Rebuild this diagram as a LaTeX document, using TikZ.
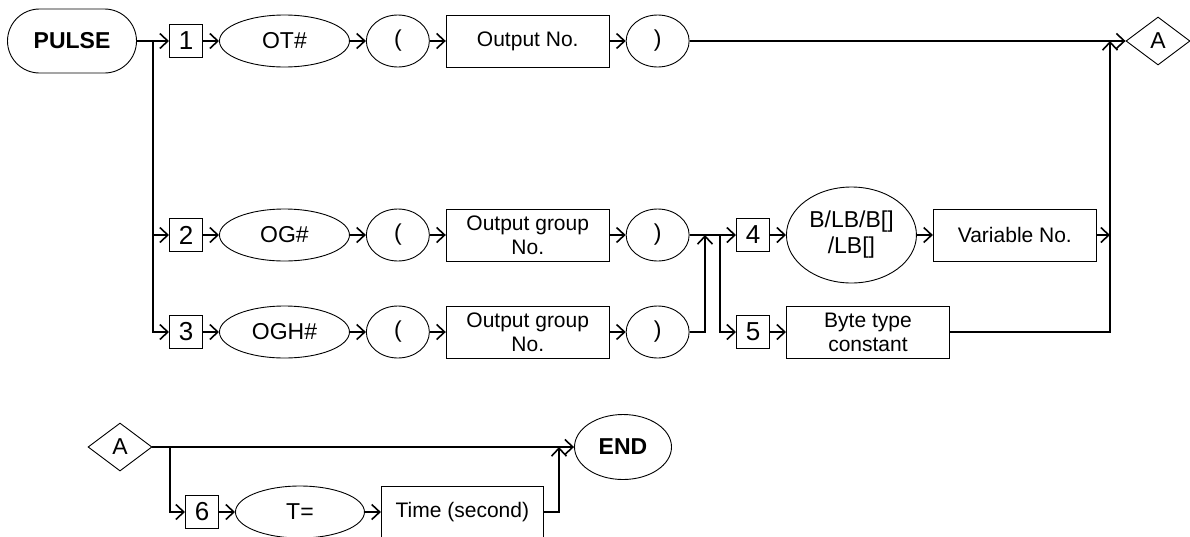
\documentclass[tikz,border=0pt]{standalone}
\usepackage{fontspec}
\setmainfont{Liberation Sans}
\usetikzlibrary{shapes.geometric,arrows.meta,positioning}

\begin{document}
\begin{tikzpicture}[x=1pt, y=-1pt, node distance=16pt,
  numbox/.style={rectangle, draw, line width=1pt, minimum size=33pt,
                 inner sep=0pt, font=\fontsize{26}{26}\selectfont},
  kw/.style={ellipse, draw, line width=0.9pt, minimum width=#1,
             minimum height=52pt, inner sep=0pt, align=center,
             font=\fontsize{23}{26}\selectfont},
  kw/.default=130pt,
  item/.style={rectangle, draw, line width=0.9pt, minimum width=#1,
               minimum height=52pt, inner sep=0pt, align=center,
               font=\fontsize{21}{24}\selectfont},
  item/.default=163pt,
  term/.style={rectangle, rounded corners=32pt, draw, line width=0.9pt,
               minimum width=129pt, minimum height=64pt, inner sep=0pt,
               font=\bfseries\fontsize{23}{24}\selectfont},
  link/.style={diamond, draw, line width=0.9pt, minimum width=64pt,
               minimum height=48pt, inner sep=0pt,
               font=\fontsize{23}{24}\selectfont},
  arr/.style={-{Straight Barb[length=8pt,width=15pt]}, line width=1.6pt}
]
  \useasboundingbox (0,0) rectangle (1190,536);

  % row 1
  \node[term] (pulse) at (72,41) {PULSE};
  \node[numbox] (n1) at (186,41) {1};
  \node[kw, right=of n1] (ot) {OT\#};
  \node[kw=63pt, right=of ot] (lp1) {(};
  \node[item, right=of lp1] (outno) {Output No.};
  \node[kw=63pt, right=of outno] (rp1) {)};
  \node[link] (a1) at (1158,41) {A};

  % row 2
  \node[numbox] (n2) at (186,235) {2};
  \node[kw, right=of n2] (og) {OG\#};
  \node[kw=63pt, right=of og] (lp2) {(};
  \node[item, right=of lp2] (grp2) {Output group\\No.};
  \node[kw=63pt, right=of grp2] (rp2) {)};
  \node[numbox] (n4) at (753,235) {4};
  \node[kw, minimum height=96pt, right=of n4] (bvar) {B/LB/B[]\\/LB[]};
  \node[item, right=of bvar] (varno) {Variable No.};

  % row 3
  \node[numbox] (n3) at (186,332) {3};
  \node[kw, right=of n3] (ogh) {OGH\#};
  \node[kw=63pt, right=of ogh] (lp3) {(};
  \node[item, right=of lp3] (grp3) {Output group\\No.};
  \node[kw=63pt, right=of grp3] (rp3) {)};
  \node[numbox] (n5) at (753,332) {5};
  \node[item, right=of n5] (byte) {Byte type\\constant};

  % second part
  \node[link] (a2) at (120,447) {A};
  \node[numbox] (n6) at (202,512) {6};
  \node[kw=129pt, right=of n6] (teq) {T=};
  \node[item=162pt, right=of teq] (time) {Time (second)};
  \node[kw=97pt, minimum height=65pt, font=\bfseries\fontsize{23}{24}\selectfont]
        (fin) at (623,447) {END};

  \coordinate (j1) at (153,41);
  \coordinate (j2) at (705,235);
  \coordinate (j3) at (720,235);
  \coordinate (k1) at (1110,41);
  \coordinate (k2) at (1110,235);
  \coordinate (j4) at (170,447);
  \coordinate (k3) at (559,447);

  \draw[arr] (pulse) -- (n1);
  \draw[arr] (j1) |- (n2);
  \draw[arr] (j1) |- (n3);

  \draw[arr] (n1) -- (ot);
  \draw[arr] (ot) -- (lp1);
  \draw[arr] (lp1) -- (outno);
  \draw[arr] (outno) -- (rp1);
  \draw[arr] (rp1) -- (a1);

  \draw[arr] (n2) -- (og);
  \draw[arr] (og) -- (lp2);
  \draw[arr] (lp2) -- (grp2);
  \draw[arr] (grp2) -- (rp2);
  \draw[arr] (rp2) -- (n4);
  \draw[arr] (n4) -- (bvar);
  \draw[arr] (bvar) -- (varno);
  \draw[arr] (varno) -- (k2);

  \draw[arr] (n3) -- (ogh);
  \draw[arr] (ogh) -- (lp3);
  \draw[arr] (lp3) -- (grp3);
  \draw[arr] (grp3) -- (rp3);
  \draw[arr] (rp3) -| (j2);
  \draw[arr] (j3) |- (n5);
  \draw[arr] (n5) -- (byte);
  \draw[arr] (byte) -| (k1);

  \draw[arr] (a2) -- (fin);
  \draw[arr] (j4) |- (n6);
  \draw[arr] (n6) -- (teq);
  \draw[arr] (teq) -- (time);
  \draw[arr] (time) -| (k3);
\end{tikzpicture}
\end{document}
